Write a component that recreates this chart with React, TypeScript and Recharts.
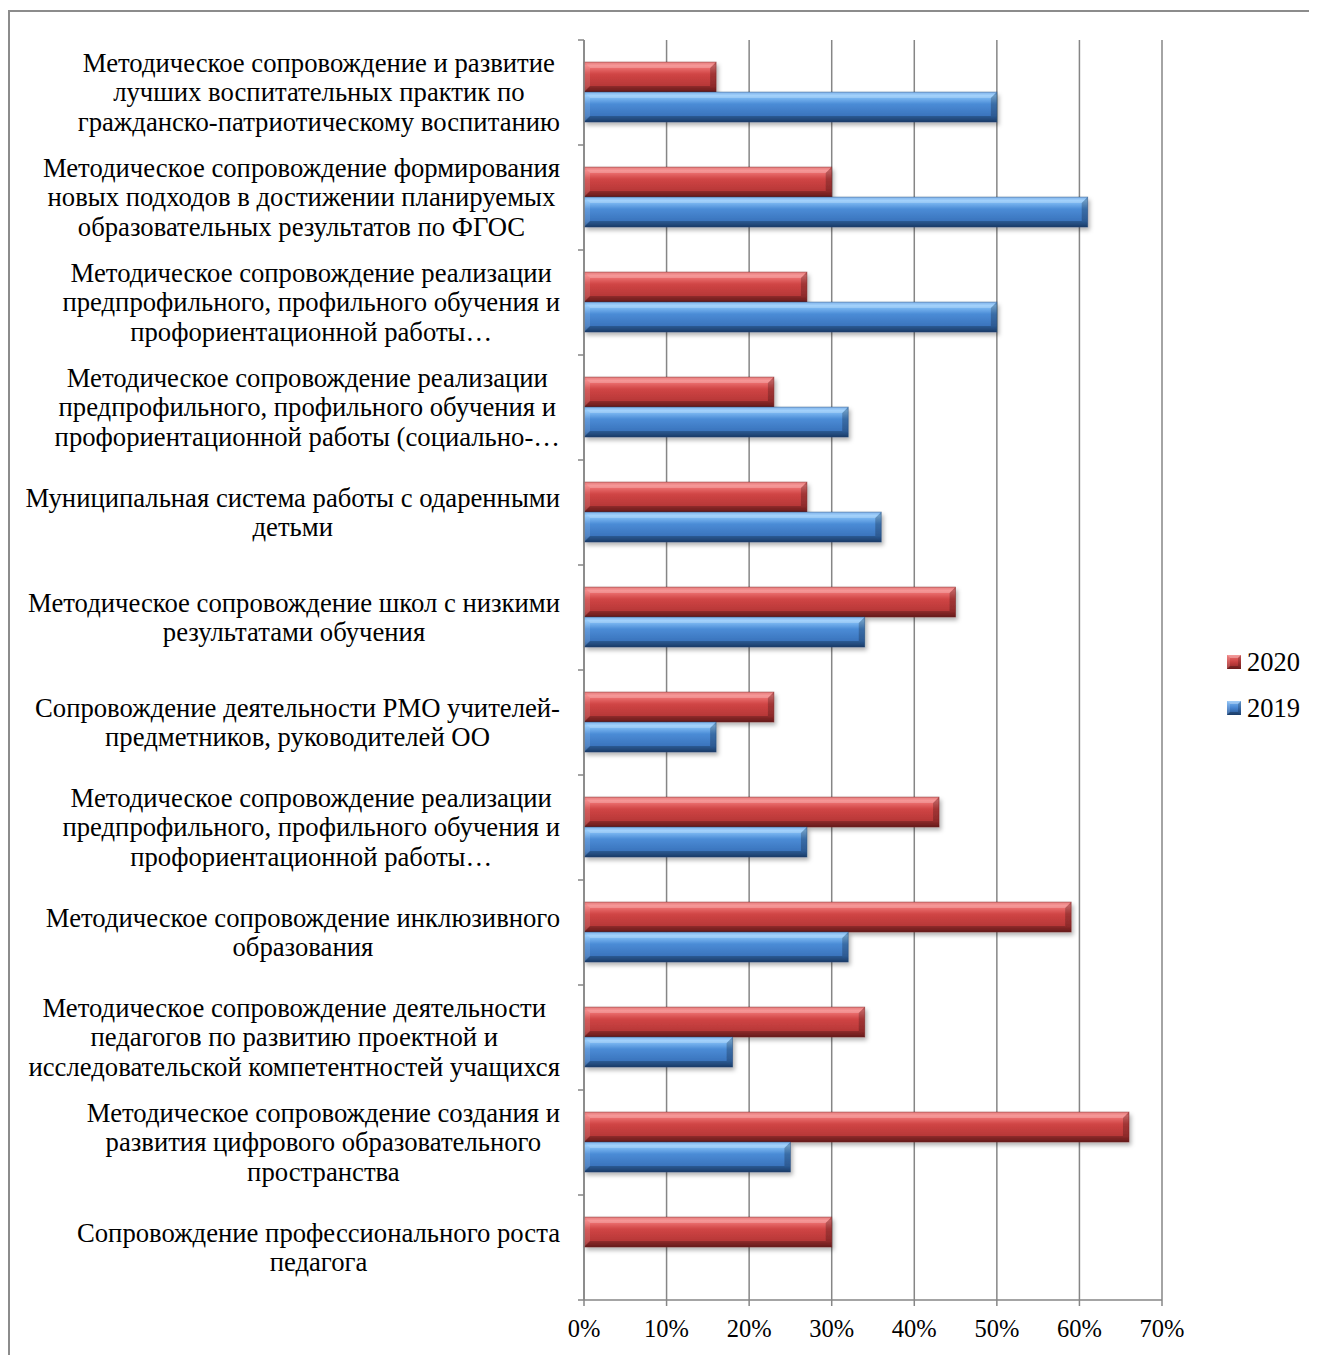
import React from 'react';
import { BarChart, Bar, XAxis, YAxis, CartesianGrid, Legend } from 'recharts';

const categories: string[] = [
  'Методическое сопровождение и развитие\nлучших воспитательных практик по\nгражданско-патриотическому воспитанию',
  'Методическое сопровождение формирования\nновых подходов в достижении планируемых\nобразовательных результатов по ФГОС',
  'Методическое сопровождение реализации\nпредпрофильного, профильного обучения и\nпрофориентационной работы…',
  'Методическое сопровождение реализации\nпредпрофильного, профильного обучения и\nпрофориентационной работы (социально-…',
  'Муниципальная система работы с одаренными\nдетьми',
  'Методическое сопровождение школ с низкими\nрезультатами обучения',
  'Сопровождение деятельности РМО учителей-\nпредметников, руководителей ОО',
  'Методическое сопровождение реализации\nпредпрофильного, профильного обучения и\nпрофориентационной работы…',
  'Методическое сопровождение инклюзивного\nобразования',
  'Методическое сопровождение деятельности\nпедагогов по развитию проектной и\nисследовательской компетентностей учащихся',
  'Методическое сопровождение создания и\nразвития цифрового образовательного\nпространства',
  'Сопровождение профессионального роста\nпедагога',
];

const values2020: number[] = [16, 30, 27, 23, 27, 45, 23, 43, 59, 34, 66, 30];
const values2019: number[] = [50, 61, 50, 32, 36, 34, 16, 27, 32, 18, 25, 0];

const seriesNames: string[] = ['2020', '2019'];
const xTicks: number[] = [0, 10, 20, 30, 40, 50, 60, 70];

const data = categories.map((name, i) => ({
  name,
  y2020: values2020[i],
  y2019: values2019[i],
}));

if (typeof document !== 'undefined') {
  document.documentElement.style.overflow = 'hidden';
  if (document.body) document.body.style.overflow = 'hidden';
}

const FONT = "'Liberation Serif', 'Times New Roman', serif";
const CAT_FONT_SIZE = 26.7;
const TICK_FONT_SIZE = 24.5;
const LEGEND_FONT_SIZE = 26.5;
const LINE_H = 29.5;
const TICK_SIZE = 6;
const TICK_MARGIN = 18;
const AXIS_COLOR = '#868686';

let measureCtx: CanvasRenderingContext2D | null = null;
function measure(text: string): number {
  if (!measureCtx) {
    const c = document.createElement('canvas');
    measureCtx = c.getContext('2d');
  }
  if (!measureCtx) return text.length * 13;
  measureCtx.font = `${CAT_FONT_SIZE}px 'Liberation Serif'`;
  return measureCtx.measureText(text).width;
}

const CategoryTick = (props: any) => {
  const { x, y, payload, index, visibleTicksCount } = props;
  const lines = String(payload.value).split('\n');
  const half = typeof payload.offset === 'number' && payload.offset > 0 ? payload.offset : 52.5;
  const axisX = x + TICK_SIZE + TICK_MARGIN;
  const blockW = Math.max(...lines.map(measure));
  const cx = x - blockW / 2;
  const y0 = y - ((lines.length - 1) * LINE_H) / 2 + CAT_FONT_SIZE * 0.33;
  const isLast = index === visibleTicksCount - 1;
  return (
    <g>
      <line x1={axisX - 6} x2={axisX} y1={y - half} y2={y - half} stroke={AXIS_COLOR} strokeWidth={1.5} />
      {isLast && (
        <line x1={axisX - 6} x2={axisX} y1={y + half} y2={y + half} stroke={AXIS_COLOR} strokeWidth={1.5} />
      )}
      {lines.map((ln, i) => (
        <text
          key={i}
          x={cx}
          y={y0 + i * LINE_H}
          textAnchor="middle"
          fontFamily={FONT}
          fontSize={CAT_FONT_SIZE}
          fill="#000"
        >
          {ln}
        </text>
      ))}
    </g>
  );
};

const makeBevel = (key: string) => (props: any) => {
  const { x, y, width, height } = props;
  if (!width || width < 1 || !height) return <g />;
  const b = Math.min(6, width / 2, height / 4);
  const dark = key === 'r' ? '#6e1a1a' : '#1c3f6e';
  return (
    <g filter="url(#barShadow)">
      <rect x={x} y={y} width={width} height={height} fill={`url(#grad-${key})`} />
      <polygon
        points={`${x},${y} ${x + width},${y} ${x + width - b},${y + b} ${x + b},${y + b}`}
        fill="#ffffff"
        opacity={0.22}
      />
      <polygon
        points={`${x},${y + height} ${x + width},${y + height} ${x + width - b},${y + height - b} ${x + b},${y + height - b}`}
        fill="#000000"
        opacity={0.22}
      />
      <polygon
        points={`${x},${y} ${x + b},${y + b} ${x + b},${y + height - b} ${x},${y + height}`}
        fill="#ffffff"
        opacity={0.12}
      />
      <polygon
        points={`${x + width},${y} ${x + width - b},${y + b} ${x + width - b},${y + height - b} ${x + width},${y + height}`}
        fill="#000000"
        opacity={0.22}
      />
      <rect x={x} y={y} width={width} height={height} fill="none" stroke={dark} strokeOpacity={0.5} strokeWidth={0.8} />
    </g>
  );
};

const BevelRed = makeBevel('r');
const BevelBlue = makeBevel('b');

const LegendSquare = ({ k }: { k: string }) => (
  <svg width={14} height={14} style={{ display: 'block' }}>
    <rect x={0} y={0} width={14} height={14} fill={`url(#grad-${k}-sq)`} />
    <polygon points="0,0 14,0 11,3 3,3" fill="#fff" opacity={0.3} />
    <polygon points="0,14 14,14 11,11 3,11" fill="#000" opacity={0.25} />
    <polygon points="14,0 11,3 11,11 14,14" fill="#000" opacity={0.2} />
    <polygon points="0,0 3,3 3,11 0,14" fill="#fff" opacity={0.15} />
  </svg>
);

const renderLegend = () => (
  <div style={{ fontFamily: FONT, fontSize: LEGEND_FONT_SIZE, color: '#000' }}>
    {seriesNames.map((n, i) => (
      <div key={n} style={{ display: 'flex', alignItems: 'center', height: 46 }}>
        <LegendSquare k={i === 0 ? 'r' : 'b'} />
        <span style={{ marginLeft: 6, lineHeight: '26px' }}>{n}</span>
      </div>
    ))}
  </div>
);

export default function App() {
  return (
    <>
      <style>{'html, body { overflow: hidden; }'}</style>
      <div
        style={{
          position: 'relative',
          top: 2,
          width: 1330,
          height: 1370,
          border: '2px solid #8c8c8c',
          boxSizing: 'border-box',
          background: '#fff',
        }}
      >
        <svg width={0} height={0} style={{ position: 'absolute' }}>
          <defs>
            <linearGradient id="grad-r" x1="0" y1="0" x2="0" y2="1">
              <stop offset="0" stopColor="#e05656" />
              <stop offset="0.12" stopColor="#f47c7c" />
              <stop offset="0.4" stopColor="#d04545" />
              <stop offset="0.8" stopColor="#b73737" />
              <stop offset="1" stopColor="#822222" />
            </linearGradient>
            <linearGradient id="grad-b" x1="0" y1="0" x2="0" y2="1">
              <stop offset="0" stopColor="#5b9de6" />
              <stop offset="0.12" stopColor="#8ac6fb" />
              <stop offset="0.4" stopColor="#4b8cd6" />
              <stop offset="0.8" stopColor="#3a74bd" />
              <stop offset="1" stopColor="#214d85" />
            </linearGradient>
            <linearGradient id="grad-r-sq" x1="0" y1="0" x2="0" y2="1">
              <stop offset="0" stopColor="#ef7070" />
              <stop offset="0.5" stopColor="#c94141" />
              <stop offset="1" stopColor="#8e2727" />
            </linearGradient>
            <linearGradient id="grad-b-sq" x1="0" y1="0" x2="0" y2="1">
              <stop offset="0" stopColor="#7ab8f4" />
              <stop offset="0.5" stopColor="#4683cf" />
              <stop offset="1" stopColor="#24528c" />
            </linearGradient>
            <filter id="barShadow" x="-5%" y="-20%" width="115%" height="160%">
              <feDropShadow dx="2" dy="3" stdDeviation="2" floodColor="#000" floodOpacity="0.3" />
            </filter>
          </defs>
        </svg>
        <BarChart
          width={1300}
          height={1340}
          data={data}
          layout="vertical"
          margin={{ top: 28, right: 148, bottom: 12, left: 0 }}
          barCategoryGap="21%"
          barGap={0}
          style={{ fontFamily: FONT }}
        >
          <CartesianGrid horizontal={false} vertical={true} stroke={AXIS_COLOR} strokeWidth={1.5} />
          <XAxis
            type="number"
            domain={[0, 70]}
            ticks={xTicks}
            tickFormatter={(v: number) => `${v}%`}
            axisLine={{ stroke: AXIS_COLOR, strokeWidth: 1.5 }}
            tickLine={{ stroke: AXIS_COLOR, strokeWidth: 1.5 }}
            tickSize={6}
            tickMargin={14}
            height={40}
            tick={{ fill: '#000', fontSize: TICK_FONT_SIZE, fontFamily: FONT }}
            interval={0}
          />
          <YAxis
            type="category"
            dataKey="name"
            width={574}
            axisLine={{ stroke: AXIS_COLOR, strokeWidth: 1.5 }}
            tickLine={false}
            tickSize={TICK_SIZE}
            tickMargin={TICK_MARGIN}
            tick={<CategoryTick />}
            interval={0}
          />
          <Legend
            layout="vertical"
            align="center"
            verticalAlign="middle"
            content={renderLegend}
            wrapperStyle={{ left: 1217, top: 627, width: 'auto' }}
          />
          <Bar dataKey="y2020" name="2020" fill="#c0392b" shape={<BevelRed />} isAnimationActive={false} />
          <Bar dataKey="y2019" name="2019" fill="#3f7fcf" shape={<BevelBlue />} isAnimationActive={false} />
        </BarChart>
      </div>
    </>
  );
}
